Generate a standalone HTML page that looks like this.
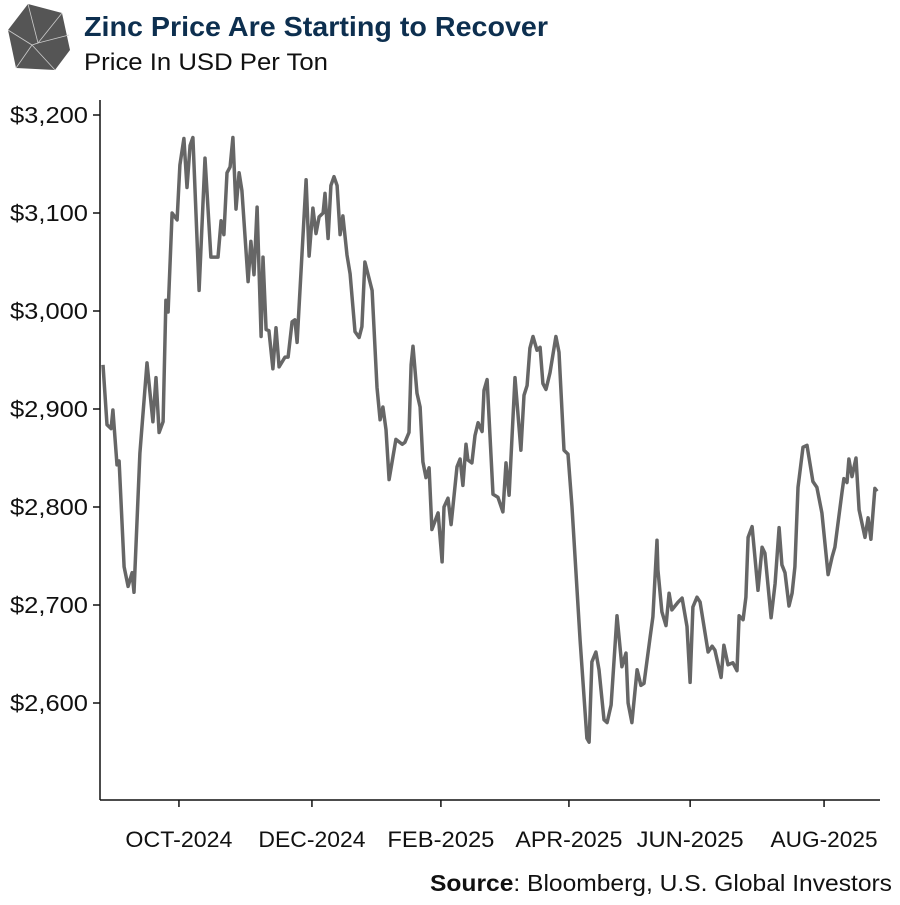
<!DOCTYPE html>
<html><head><meta charset="utf-8"><style>
body{margin:0;background:#fff;width:900px;height:900px;overflow:hidden;font-family:"Liberation Sans",sans-serif}
</style></head><body>
<svg width="900" height="900">
<g>
<polygon points="28,4 62,13 70,50 55,70 16,68 8,30" fill="#555"/>
<path d="M28,4 L38,43 L62,13 M38,43 L69,35 M38,43 L32,45 L8,30 M32,45 L16,68 M32,45 L55,70" fill="none" stroke="#ccc" stroke-width="0.8"/>
</g>
<text x="84" y="36" font-size="28" font-weight="bold" fill="#0d2f4f" textLength="464" lengthAdjust="spacingAndGlyphs">Zinc Price Are Starting to Recover</text>
<text x="84" y="70" font-size="24" fill="#111" textLength="244" lengthAdjust="spacingAndGlyphs">Price In USD Per Ton</text>
<g id="axes"></g>
<path id="line" fill="none" stroke="#666" stroke-width="3.5" stroke-linejoin="round"/>
<text x="892" y="891" font-size="23" text-anchor="end" fill="#111" textLength="462" lengthAdjust="spacingAndGlyphs"><tspan font-weight="bold">Source</tspan>: Bloomberg, U.S. Global Investors</text>
</svg>
<script>
const sessions=[0,1.3,2.6,3.2,4.5,5.2,6.8,8.1,9.4,10,11.9,14.2,16.1,17.1,18.1,19.4,20.3,21,22.3,23.9,24.8,26.1,27.1,28.1,29,31,32.9,34.8,37.1,38.1,39,40,41,41.9,42.9,43.9,44.8,46.8,47.7,48.7,49.7,51,51.6,52.6,53.5,54.8,55.8,56.8,58.7,59.7,61,61.9,62.6,65.5,66.5,67.7,68.7,69.7,71,71.6,72.6,73.5,74.5,75.5,76.5,77.4,78.7,79.7,81.3,82.6,83.5,84.5,86.8,88.4,89.4,90.3,91.3,92.3,94.5,96.5,97.4,98.7,99.4,100,101.3,102.3,103.2,104.2,105.2,106.1,108.1,109.4,110,111.3,112.3,114.2,115.2,116.1,117.1,117.7,119,120,121,122.3,122.9,123.9,125.8,127.4,129,130,131,132.9,134.8,135.8,136.8,137.7,138.7,140,141,141.9,142.9,144.2,146.1,147.1,148.7,150,151.3,153.9,156.1,156.8,157.7,159,160,161.6,162.6,163.9,165.8,167.4,168.7,169.4,170.6,172.3,173.5,174.5,176.5,177.4,178.7,179,180.3,181.6,182.6,183.5,185.5,186.8,188.4,189.4,190.3,191.6,192.6,195.2,196.5,197.4,199.4,200.3,201.6,203.2,204.5,205.2,206.5,207.4,208.1,209.4,211.3,212.6,213.5,215.5,216.8,218.1,219,220,221.3,222.3,223.2,224.2,225.8,227.1,229,230.3,231.9,233.9,235.2,236.1,238.4,239,240,240.6,241.6,242.9,243.9,245.8,246.8,247.7,249,249.7];
const prices=[2945,2884,2880,2899,2843,2847,2739,2719,2733,2713,2855,2947,2887,2932,2876,2887,3011,2999,3100,3093,3149,3176,3126,3169,3177,3021,3156,3055,3055,3092,3078,3141,3147,3177,3104,3141,3123,3030,3071,3037,3106,2974,3055,2981,2980,2941,2983,2943,2953,2953,2989,2991,2968,3134,3056,3105,3079,3096,3100,3120,3074,3128,3137,3128,3078,3097,3057,3038,2979,2973,2984,3050,3021,2922,2889,2902,2879,2828,2869,2864,2866,2876,2945,2964,2916,2902,2846,2830,2840,2777,2794,2744,2800,2809,2782,2841,2849,2822,2864,2848,2845,2873,2886,2877,2919,2930,2813,2810,2795,2845,2812,2932,2858,2914,2924,2962,2974,2960,2963,2926,2920,2937,2974,2958,2858,2854,2800,2664,2564,2560,2642,2652,2634,2583,2580,2598,2689,2637,2651,2600,2580,2634,2618,2620,2667,2688,2766,2736,2693,2679,2712,2695,2703,2707,2678,2621,2698,2708,2703,2652,2658,2654,2626,2659,2639,2641,2633,2689,2685,2708,2769,2780,2715,2759,2753,2687,2722,2779,2741,2733,2699,2712,2739,2820,2861,2863,2826,2820,2794,2731,2749,2759,2815,2829,2825,2849,2831,2850,2797,2769,2789,2767,2819,2816];
const yTicks=[2600,2700,2800,2900,3000,3100,3200];
const xTickLabels=["OCT-2024","DEC-2024","FEB-2025","APR-2025","JUN-2025","AUG-2025"];
const xTickSessions=[24.5,67.4,109,150.3,189.4,232.6];
const X=s=>103+s*3.1, Y=p=>115+(3200-p)*0.98;
const ns="http://www.w3.org/2000/svg", ax=document.getElementById('axes');
function mk(t,a){const e=document.createElementNS(ns,t);for(const k in a)e.setAttribute(k,a[k]);ax.appendChild(e);return e;}
let e=mk('line',{x1:100,y1:100,x2:100,y2:800,stroke:'#111','stroke-width':1.5});


e=mk('line',{x1:100,y1:800,x2:880,y2:800,stroke:'#111','stroke-width':1.5});


yTicks.forEach(v=>{const y=Y(v);
mk('line',{x1:93,y1:y,x2:100,y2:y,stroke:'#111','stroke-width':1.5});
const t=mk('text',{x:88,y:y+8,'font-size':23,'text-anchor':'end',fill:'#111',textLength:78,lengthAdjust:'spacingAndGlyphs'});
t.textContent='$'+v.toLocaleString('en-US');

});
xTickSessions.forEach((s,i)=>{const x=X(s);
mk('line',{x1:x,y1:800,x2:x,y2:807,stroke:'#111','stroke-width':1.5});
const t=mk('text',{x:x,y:847,'font-size':22,'text-anchor':'middle',fill:'#111',textLength:107,lengthAdjust:'spacingAndGlyphs'});
t.textContent=xTickLabels[i];

});
document.getElementById('line').setAttribute('d',sessions.map((s,i)=>(i?'L':'M')+X(s).toFixed(1)+','+Y(prices[i]).toFixed(1)).join(''));
</script>
</body></html>
